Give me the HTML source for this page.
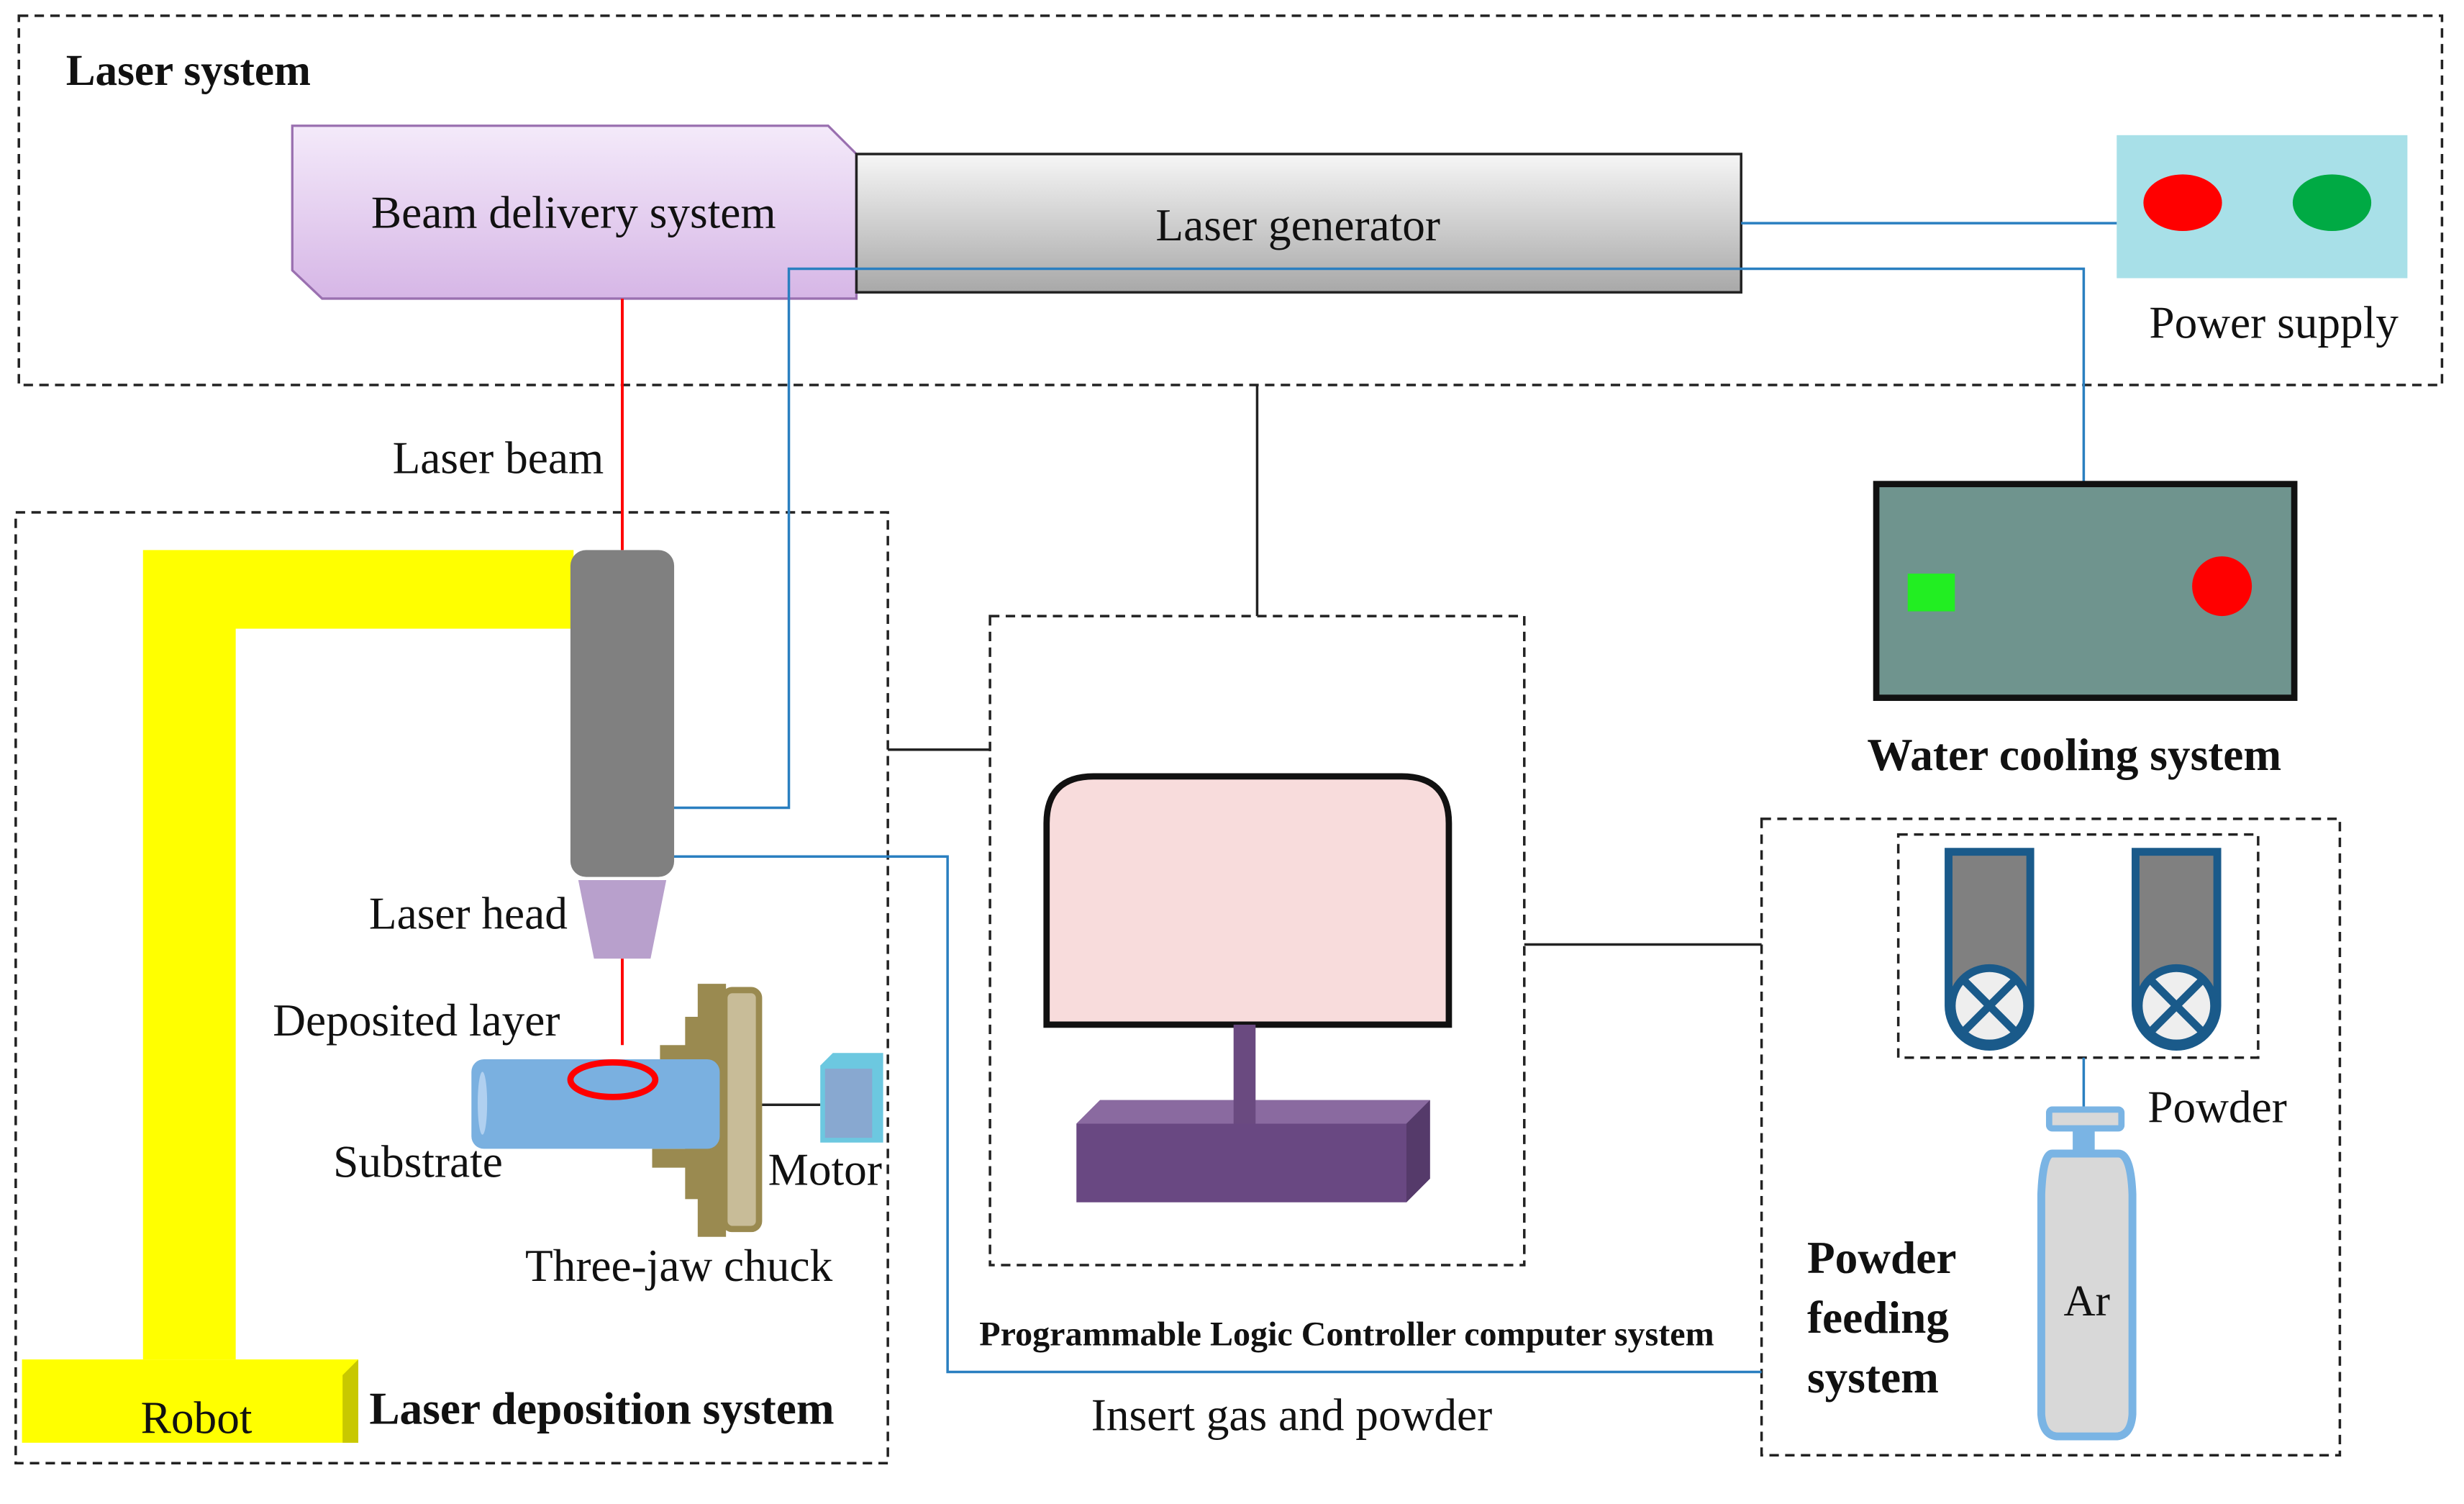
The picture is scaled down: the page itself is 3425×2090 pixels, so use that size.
<!DOCTYPE html>
<html><head><meta charset="utf-8"><style>
html,body{margin:0;padding:0;background:#fff;}
svg{display:block;}
text{font-family:"Liberation Serif",serif;fill:#111;}
</style></head><body>
<svg width="3425" height="2090" viewBox="0 0 1568 957" preserveAspectRatio="none" xmlns="http://www.w3.org/2000/svg">
<defs>
<linearGradient id="gp" x1="0" y1="0" x2="0" y2="1"><stop offset="0" stop-color="#f4eafa"/><stop offset="1" stop-color="#d6b6e6"/></linearGradient>
<linearGradient id="gg" x1="0" y1="0" x2="0" y2="1"><stop offset="0" stop-color="#f6f6f6"/><stop offset="1" stop-color="#a8a8a8"/></linearGradient>
</defs>
<rect width="1568" height="957" fill="#fff"/>
<g fill="none" stroke="#222" stroke-width="1.6" stroke-dasharray="6,4">
<rect x="12" y="10" width="1542" height="235"/>
<rect x="10" y="326" width="555" height="605"/>
<rect x="630" y="392" width="340" height="413"/>
<rect x="1121" y="521" width="368" height="405"/>
<rect x="1208" y="531" width="229" height="142"/>
</g>
<text x="42" y="54" font-size="28" font-weight="bold">Laser system</text>
<g stroke="#222" stroke-width="1.6" fill="none">
<line x1="800" y1="245" x2="800" y2="392"/>
<line x1="565" y1="477" x2="630" y2="477"/>
<line x1="970" y1="601" x2="1121" y2="601"/>
<line x1="484" y1="703" x2="522" y2="703"/>
</g>
<polygon points="186,80 527,80 545,98 545,190 205,190 186,172" fill="url(#gp)" stroke="#9a70b0" stroke-width="1.5"/>
<text x="365" y="145" font-size="29" text-anchor="middle">Beam delivery system</text>
<rect x="545" y="98" width="563" height="88" fill="url(#gg)" stroke="#222" stroke-width="1.6"/>
<text x="826" y="153" font-size="29" text-anchor="middle">Laser generator</text>
<rect x="1347" y="86" width="185" height="91" fill="#a8e0e8"/>
<ellipse cx="1389" cy="129" rx="25" ry="18" fill="#ff0000"/>
<ellipse cx="1484" cy="129" rx="25" ry="18" fill="#00aa44"/>
<text x="1447" y="215" font-size="29" text-anchor="middle">Power supply</text>
<g stroke="#2a7fc0" stroke-width="1.6" fill="none">
<line x1="1108" y1="142" x2="1347" y2="142"/>
<polyline points="428,514 502,514 502,171 1326,171 1326,308"/>
<polyline points="428,545 603,545 603,873 1121,873"/>
<line x1="1326" y1="673" x2="1326" y2="706"/>
</g>
<g stroke="#ff0000" stroke-width="1.8">
<line x1="396" y1="190" x2="396" y2="350"/>
<line x1="396" y1="610" x2="396" y2="665"/>
</g>
<text x="317" y="301" font-size="29" text-anchor="middle">Laser beam</text>
<path d="M91,350 H365 V400 H150 V865 H91 Z" fill="#ffff00"/>
<polygon points="14,865 228,865 228,918 14,918" fill="#ffff00"/>
<polygon points="218,875 228,865 228,918 218,918" fill="#c8c800"/>
<text x="125" y="912" font-size="29" text-anchor="middle">Robot</text>
<text x="235" y="906" font-size="29" font-weight="bold">Laser deposition system</text>
<rect x="363" y="350" width="66" height="208" rx="10" fill="#808080"/>
<polygon points="368,560 424,560 414,610 378,610" fill="#b8a0cc"/>
<text x="298" y="591" font-size="29" text-anchor="middle">Laser head</text>
<text x="265" y="659" font-size="29" text-anchor="middle">Deposited layer</text>
<text x="266" y="749" font-size="29" text-anchor="middle">Substrate</text>
<text x="525" y="754" font-size="29" text-anchor="middle">Motor</text>
<text x="432" y="815" font-size="29" text-anchor="middle">Three-jaw chuck</text>
<rect x="420" y="665" width="41" height="10" fill="#9a8a50"/>
<rect x="415" y="731" width="46" height="12" fill="#9a8a50"/>
<rect x="436" y="647" width="25" height="116" fill="#9a8a50"/>
<rect x="444" y="626" width="18" height="161" fill="#9a8a50"/>
<rect x="300" y="674" width="158" height="57" rx="8" fill="#7ab0e0"/>
<ellipse cx="307" cy="702" rx="3" ry="20" fill="#b0d0f0"/>
<ellipse cx="390" cy="687" rx="27" ry="11" fill="none" stroke="#ff0000" stroke-width="4"/>
<rect x="461" y="630" width="22" height="152" rx="5" fill="#c8bc98" stroke="#9a8a50" stroke-width="4"/>
<polygon points="522,678 530,670 562,670 562,727 522,727" fill="#6cc8e0"/>
<rect x="525" y="680" width="30" height="44" fill="#88a8d0"/>
<path d="M666,652 V524 Q666,494 696,494 H892 Q922,494 922,524 V652 Z" fill="#f8dcdc" stroke="#111" stroke-width="4"/>
<polygon points="685,765 895,765 910,750 910,700 700,700 685,715" fill="#694882"/>
<polygon points="685,715 700,700 910,700 895,715" fill="#8a6aa0"/>
<polygon points="895,765 910,750 910,700 895,715" fill="#553a6a"/>
<rect x="785" y="652" width="14" height="63" fill="#6a4a80"/>
<text x="857" y="856" font-size="22" font-weight="bold" text-anchor="middle">Programmable Logic Controller computer system</text>
<text x="822" y="910" font-size="29" text-anchor="middle">Insert gas and powder</text>
<rect x="1194" y="308" width="266" height="136" fill="#6f948e" stroke="#111" stroke-width="4"/>
<rect x="1214" y="365" width="30" height="24" fill="#22ee22"/>
<circle cx="1414" cy="373" r="19" fill="#ff0000"/>
<text x="1320" y="490" font-size="29" font-weight="bold" text-anchor="middle">Water cooling system</text>
<g stroke="#1a5a8a" stroke-width="5">
<path d="M1240,542 H1292 V640 A26,26 0 0 1 1240,640 Z" fill="#808080"/>
<circle cx="1266" cy="640" r="24" fill="#eeeeee"/>
<line x1="1249" y1="623" x2="1283" y2="657"/><line x1="1283" y1="623" x2="1249" y2="657"/>
<path d="M1359,542 H1411 V640 A26,26 0 0 1 1359,640 Z" fill="#808080"/>
<circle cx="1385" cy="640" r="24" fill="#eeeeee"/>
<line x1="1368" y1="623" x2="1402" y2="657"/><line x1="1402" y1="623" x2="1368" y2="657"/>
</g>
<rect x="1304" y="706" width="46" height="12" rx="2" fill="#d8d8d8" stroke="#7ab4e4" stroke-width="4"/>
<rect x="1319" y="718" width="14" height="16" fill="#7ab4e4"/>
<path d="M1306,734 H1348 Q1356,734 1357,760 V900 Q1356,914 1346,914 H1310 Q1300,914 1299,900 V760 Q1300,734 1306,734 Z" fill="#d8d8d8" stroke="#7ab4e4" stroke-width="5"/>
<text x="1328" y="837" font-size="28" text-anchor="middle">Ar</text>
<text x="1411" y="714" font-size="29" text-anchor="middle">Powder</text>
<text x="1150" y="810" font-size="29" font-weight="bold">Powder</text>
<text x="1150" y="848" font-size="29" font-weight="bold">feeding</text>
<text x="1150" y="886" font-size="29" font-weight="bold">system</text>
</svg>
</body></html>
